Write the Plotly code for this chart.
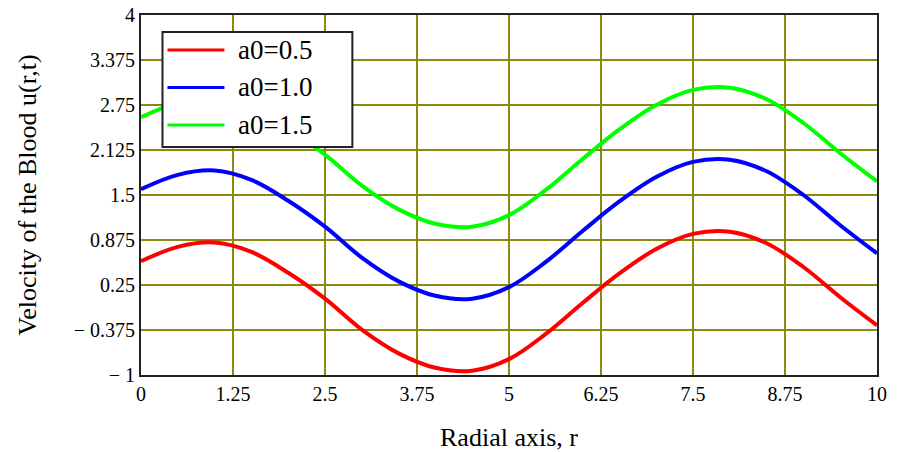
import plotly.graph_objects as go

r = [0, 0.5, 1.0, 1.5, 2.0, 2.5, 3.0, 3.5, 4.0, 4.5, 5.0, 5.5, 6.0, 6.5, 7.0, 7.5, 8.0, 8.5, 9.0, 9.5, 10.0]
u_a05 = [0.58, 0.78, 0.84, 0.71, 0.42, 0.06, -0.37, -0.70, -0.90, -0.94, -0.78, -0.43, 0.00, 0.41, 0.75, 0.96, 0.99, 0.83, 0.50, 0.08, -0.31]
u_a10 = [1.58, 1.78, 1.84, 1.71, 1.42, 1.06, 0.63, 0.30, 0.10, 0.06, 0.22, 0.57, 1.00, 1.41, 1.75, 1.96, 1.99, 1.83, 1.50, 1.08, 0.69]
u_a15 = [2.58, 2.78, 2.84, 2.71, 2.42, 2.06, 1.63, 1.30, 1.10, 1.06, 1.22, 1.57, 2.00, 2.41, 2.75, 2.96, 2.99, 2.83, 2.50, 2.08, 1.69]

names = ["a0=0.5", "a0=1.0", "a0=1.5"]
colors = ["#ff0000", "#0000ff", "#00ff00"]
series = [u_a05, u_a10, u_a15]

xticks = [0, 1.25, 2.5, 3.75, 5, 6.25, 7.5, 8.75, 10]
xticktext = ["0", "1.25", "2.5", "3.75", "5", "6.25", "7.5", "8.75", "10"]
yticks = [-1, -0.375, 0.25, 0.875, 1.5, 2.125, 2.75, 3.375, 4]
yticktext = ["\u2212 1", "\u2212 0.375", "0.25", "0.875", "1.5", "2.125", "2.75", "3.375", "4"]

fig = go.Figure()
for name, col, vals in zip(names, colors, series):
    fig.add_trace(go.Scatter(x=r, y=vals, mode="lines", name=name,
                             line=dict(color=col, width=4, shape="spline", smoothing=1.0),
                             showlegend=False))

font_family = "Liberation Serif, Times New Roman, serif"
grid_col = "#8a8a10"

fig.update_layout(
    width=898, height=452,
    margin=dict(l=140.5, r=21, t=15, b=77),
    paper_bgcolor="white", plot_bgcolor="white",
    font=dict(family=font_family, size=20, color="black"),
    showlegend=False,
)
fig.update_xaxes(range=[0, 10], tickvals=xticks, ticktext=xticktext, automargin=False,
                 showgrid=True, gridcolor=grid_col, gridwidth=2,
                 showline=True, linecolor="#222", linewidth=2, mirror=True,
                 zeroline=False, ticks="",
                 tickfont=dict(family=font_family, size=20),
                 title=dict(text="Radial axis, r", font=dict(family=font_family, size=26), standoff=24))
fig.update_yaxes(range=[-1, 4], tickvals=yticks, ticktext=yticktext, automargin=False,
                 showgrid=True, gridcolor=grid_col, gridwidth=2,
                 showline=True, linecolor="#222", linewidth=2, mirror=True,
                 zeroline=False, ticks="",
                 tickfont=dict(family=font_family, size=20),
                 title=dict(text="Velocity of the Blood u(r,t)", font=dict(family=font_family, size=26), standoff=30))

# manual legend (paper coordinates)
def px2x(px):
    return (px - 140.5) / 736.5

def py2y(py):
    return (375 - py) / 360

fig.add_shape(type="rect", xref="paper", yref="paper",
              x0=px2x(162), x1=px2x(352), y0=py2y(147), y1=py2y(32),
              line=dict(color="#222", width=2), fillcolor="white", layer="above")
rows = [50, 87.5, 125]
for name, col, py in zip(names, colors, rows):
    fig.add_shape(type="line", xref="paper", yref="paper",
                  x0=px2x(167), x1=px2x(224), y0=py2y(py), y1=py2y(py),
                  line=dict(color=col, width=3), layer="above")
    fig.add_annotation(xref="paper", yref="paper", x=px2x(236), y=py2y(py),
                       text=name, showarrow=False, xanchor="left", yanchor="middle",
                       font=dict(family=font_family, size=27, color="black"))

fig.write_html("out.html")
